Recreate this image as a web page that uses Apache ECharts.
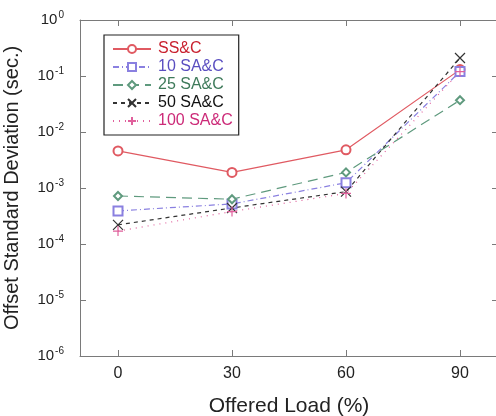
<!DOCTYPE html>
<html>
<head>
<meta charset="utf-8">
<script src="https://cdn.jsdelivr.net/npm/echarts@6/dist/echarts.min.js"></script>
<style>html,body{margin:0;padding:0;background:#fff;}#c{width:496px;height:416px;}</style>
</head>
<body>
<div id="c"></div>
<script>
const loads = [0, 30, 60, 90];
const xTicks = [0, 30, 60, 90];
const seriesNames = ['SS&C', '10 SA&C', '25 SA&C', '50 SA&C', '100 SA&C'];
const ssc   = [0.0046, 0.0019, 0.0048, 0.13];
const sa10  = [0.00039, 0.00052, 0.00124, 0.12];
const sa25  = [0.00072, 0.00063, 0.0019, 0.037];
const sa50  = [0.00022, 0.00044, 0.00086, 0.21];
const sa100 = [0.00017, 0.00038, 0.00080, 0.12];

const values = [ssc, sa10, sa25, sa50, sa100];
const lineColors = ['#e05a62', '#8a80e0', '#5f9a7e', '#333333', '#e0609c'];
const textColors = ['#c8202e', '#5a4ec0', '#3e7a5a', '#111111', '#cc2a78'];
const dashes = ['solid', [6, 3, 1, 3], [10, 6], [4, 4], [1, 5]];
const symbols = ['emptyCircle', 'emptyRect', 'emptyDiamond',
  'path://M0,0L10,10M10,0L0,10', 'path://M5,0L5,10M0,5L10,5'];
const symSizes = [9, 9, 8, 10, 10];

const chart = echarts.init(document.getElementById('c'), null, {renderer: 'canvas'});
const axisGrey = '#7a7a7a';
const font = 'Liberation Sans, Arial, sans-serif';

const series = seriesNames.map((n, i) => ({
  name: n,
  type: 'line',
  xAxisIndex: 0,
  yAxisIndex: 0,
  data: loads.map((x, j) => [x, values[i][j]]),
  symbol: symbols[i],
  symbolSize: symSizes[i],
  showAllSymbol: true,
  lineStyle: {color: lineColors[i], width: 1.2, type: dashes[i]},
  itemStyle: {color: lineColors[i], borderColor: lineColors[i], borderWidth: 1.2},
  emphasis: {disabled: true},
  animation: false
}));

const supFmt = v => {
  const e = Math.round(Math.log10(v));
  return '10{s|' + e + '}';
};

chart.setOption({
  backgroundColor: '#ffffff',
  animation: false,
  grid: {left: 80, top: 20, width: 418, bottom: 60, containLabel: false, outerBoundsMode: 'none'},
  legend: {
    left: 104, top: 35, orient: 'vertical',
    width: 120,
    padding: [6, 6, 6, 8],
    itemWidth: 38, itemHeight: 10, itemGap: 2,
    borderColor: '#222', borderWidth: 1.2,
    backgroundColor: '#fff',
    data: seriesNames.map((n, i) => ({name: n, textStyle: {color: textColors[i]}})),
    textStyle: {fontFamily: font, fontSize: 16, padding: [0, 0, 0, 2]},
    selectedMode: false
  },
  xAxis: [{
    type: 'value', min: -10, max: 100, position: 'bottom',
    name: 'Offered Load (%)', nameLocation: 'middle', nameGap: 40,
    nameTextStyle: {fontFamily: font, fontSize: 21, color: '#222'},
    axisLine: {onZero: false, lineStyle: {color: axisGrey, width: 1}},
    axisTick: {inside: true, length: 6, lineStyle: {color: axisGrey}, customValues: xTicks},
    axisLabel: {customValues: xTicks, fontFamily: font, fontSize: 16, color: '#222', margin: 10},
    splitLine: {show: false}
  }, {
    type: 'value', min: -10, max: 100, position: 'top',
    axisLine: {onZero: false, lineStyle: {color: axisGrey, width: 1}},
    axisTick: {inside: true, length: 6, lineStyle: {color: axisGrey}, customValues: xTicks},
    axisLabel: {show: false, customValues: xTicks},
    splitLine: {show: false}
  }],
  yAxis: [{
    type: 'log', logBase: 10, min: 1e-6, max: 1, position: 'left',
    name: 'Offset Standard Deviation (sec.)', nameLocation: 'middle', nameGap: 58,
    nameTextStyle: {fontFamily: font, fontSize: 20, color: '#222'},
    axisLine: {onZero: false, lineStyle: {color: axisGrey, width: 1}},
    axisTick: {inside: true, length: 6, lineStyle: {color: axisGrey}},
    minorTick: {show: false},
    axisLabel: {
      formatter: supFmt, margin: 16, color: '#222',
      fontFamily: font, fontSize: 15,
      rich: {s: {fontFamily: font, fontSize: 10, color: '#222', padding: [0, 0, 9, 1]}}
    },
    splitLine: {show: false}
  }, {
    type: 'log', logBase: 10, min: 1e-6, max: 1, position: 'right',
    axisLine: {onZero: false, lineStyle: {color: axisGrey, width: 1}},
    axisTick: {inside: true, length: 6, lineStyle: {color: axisGrey}},
    axisLabel: {show: false},
    splitLine: {show: false}
  }],
  series: series
});
</script>
</body>
</html>
